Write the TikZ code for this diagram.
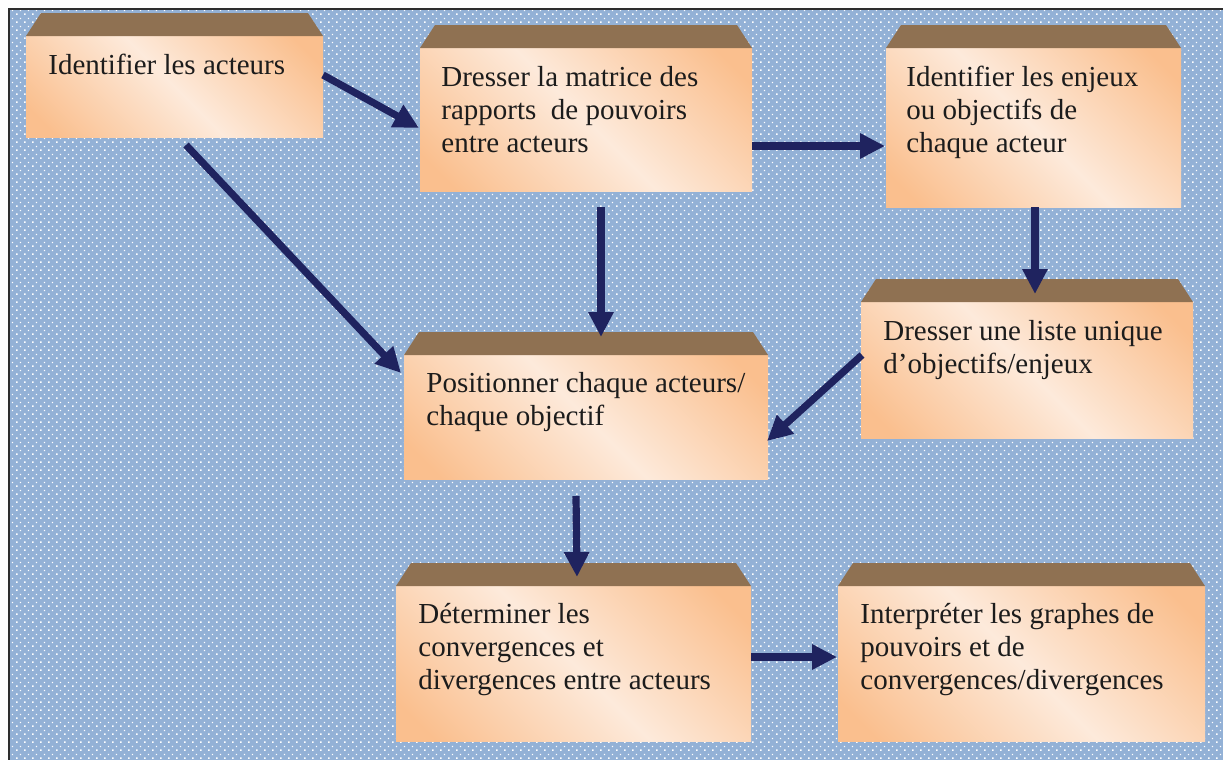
\documentclass[tikz,border=0pt]{standalone}
\usepackage{fontspec}
\setmainfont{Liberation Serif}
\usetikzlibrary{arrows.meta,calc,fit,patterns}
\definecolor{bgblue}{HTML}{93B1D6}
\definecolor{framegray}{HTML}{2E2E2E}
\definecolor{peach}{HTML}{FABF8E}
\definecolor{lightpeach}{HTML}{FDEADB}
\definecolor{topbrown}{HTML}{8F7152}
\definecolor{arrowblue}{HTML}{1F235F}
\definecolor{textdark}{HTML}{1C1C1C}
\pgfdeclarehorizontalshading{peachshade}{100bp}{color(0bp)=(peach); color(20bp)=(peach); color(50bp)=(lightpeach); color(80bp)=(peach); color(100bp)=(peach)}
\pgfdeclarepatternformonly{bgdots}{\pgfqpoint{0pt}{0pt}}{\pgfqpoint{3.85pt}{3.85pt}}{\pgfqpoint{3.85pt}{3.85pt}}{%
  \pgfpathrectangle{\pgfqpoint{0.6pt}{0.6pt}}{\pgfqpoint{0.7pt}{0.7pt}}%
  \pgfpathrectangle{\pgfqpoint{2.525pt}{2.525pt}}{\pgfqpoint{0.7pt}{0.7pt}}%
  \pgfusepath{fill}}
\newcommand\mkbox[3]{%
  \node[boxrect, fit={#2 #3}] (#1) {};
  \fill[boxtop] (#1.north west) -- ($(#1.north west)+(15,-23)$) -- ($(#1.north east)+(-15,-23)$) -- (#1.north east) -- cycle;}
\tikzset{
  arr/.style={draw=arrowblue, line width=3.6pt, -{Triangle[length=12.5pt,width=12pt]}},
  boxrect/.style={inner sep=0pt, outer sep=0pt, shade, shading=peachshade, shading angle=45},
  boxtop/.style={fill=topbrown},
  boxtext/.style={anchor=base west, inner sep=0pt, text=textdark, font=\fontsize{14.5}{16.7}\selectfont},
  framebg/.style={fill=bgblue},
  framedots/.style={pattern=bgdots, pattern color=white},
  frameline/.style={draw=framegray, line width=1pt}
}
\begin{document}
\begin{tikzpicture}[x=0.5pt, y=-0.5pt]
\useasboundingbox (0,0) rectangle (1223,760);
% background
\fill[framebg] (9,9) rectangle (1223,760);
\fill[framedots] (10,10) rectangle (1223,760);
\draw[frameline] (9,760) -- (9,9) -- (1223,9);
% boxes
\mkbox{b1}{(26,36)}{(323,137)}
\mkbox{b2}{(420,48)}{(752,191)}
\mkbox{b3}{(886,48)}{(1181,207)}
\mkbox{b4}{(861,302)}{(1193,438)}
\mkbox{b5}{(404,355)}{(768,479)}
\mkbox{b6}{(396,586)}{(751,741)}
\mkbox{b7}{(838,586)}{(1205,741)}
% texts
\node[boxtext] (t1) at ($(b1.north west)+(22,39)$) {Identifier les acteurs};
\node[boxtext] (t2) at ($(b2.north west)+(21,38)$) {\begin{tabular}[t]{@{}l@{}}Dresser la matrice des\\rapports\ \ de pouvoirs\\entre acteurs\end{tabular}};
\node[boxtext] (t3) at ($(b3.north west)+(20,38)$) {\begin{tabular}[t]{@{}l@{}}Identifier les enjeux\\ou objectifs de\\chaque acteur\end{tabular}};
\node[boxtext] (t4) at ($(b4.north west)+(22,38)$) {\begin{tabular}[t]{@{}l@{}}Dresser une liste unique\\d’objectifs/enjeux\end{tabular}};
\node[boxtext] (t5) at ($(b5.north west)+(22,37)$) {\begin{tabular}[t]{@{}l@{}}Positionner chaque acteurs/\\chaque objectif\end{tabular}};
\node[boxtext] (t6) at ($(b6.north west)+(22,37)$) {\begin{tabular}[t]{@{}l@{}}Déterminer les\\convergences et\\divergences entre acteurs\end{tabular}};
\node[boxtext] (t7) at ($(b7.north west)+(22,37)$) {\begin{tabular}[t]{@{}l@{}}Interpréter les graphes de\\pouvoirs et de\\convergences/divergences\end{tabular}};
% arrows
\draw[arr] ($(b1.north east)+(0,39)$) -- ($(b2.north west)+(-1,80)$);
\draw[arr] ($(b1.south west)+(160,8)$) -- ($(b5.north west)+(-3,18)$);
\draw[arr] ($(b2.north east)+(0,98)$) -- ($(b3.north west)+(-1,98)$);
\draw[arr] ($(b2.south west)+(181,16)$) -- ($(b5.north west)+(197,-18)$);
\draw[arr] ($(b3.south west)+(149,0)$) -- ($(b4.north west)+(174,-8)$);
\draw[arr] ($(b4.north west)+(1,53)$) -- ($(b5.north east)+(-1,86)$);
\draw[arr] ($(b5.south west)+(172,17)$) -- ($(b6.north west)+(181,-9)$);
\draw[arr] ($(b6.north east)+(0,71)$) -- ($(b7.north west)+(-1,71)$);
\end{tikzpicture}
\end{document}
